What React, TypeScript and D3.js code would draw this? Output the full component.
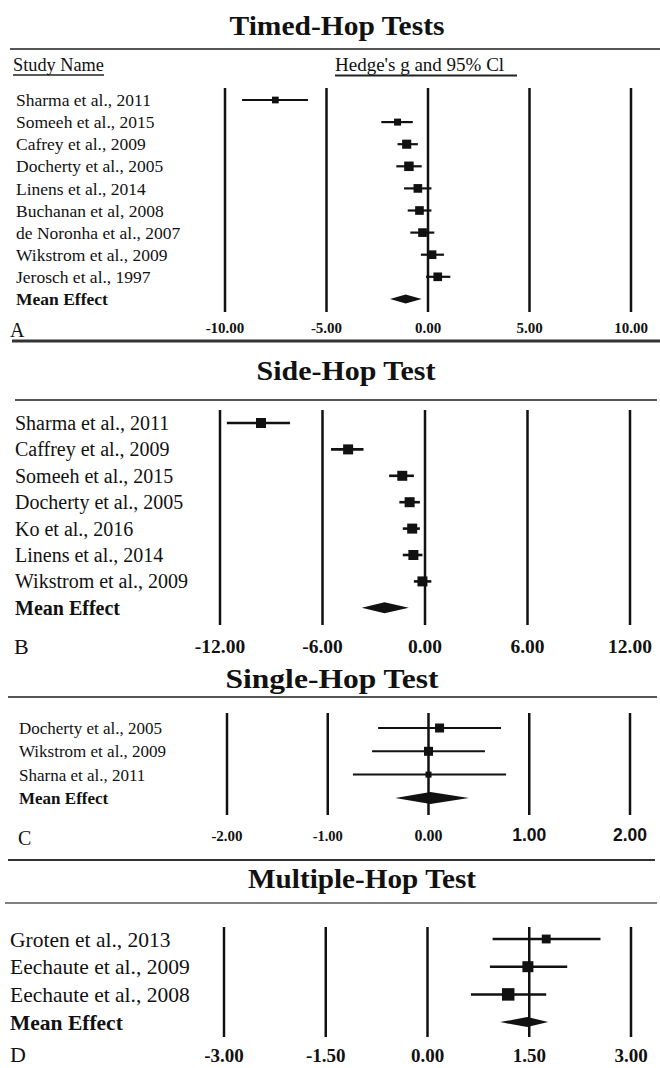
import * as d3 from "d3";

// ---- data ----
const timedStudies = [
  "Sharma et al., 2011",
  "Someeh et al., 2015",
  "Cafrey et al., 2009",
  "Docherty et al., 2005",
  "Linens et al., 2014",
  "Buchanan et al, 2008",
  "de Noronha et al., 2007",
  "Wikstrom et al., 2009",
  "Jerosch et al., 1997",
];
const timedG = [-7.52, -1.5, -1.05, -0.94, -0.5, -0.42, -0.27, 0.2, 0.48];
const timedLo = [-9.16, -2.3, -1.5, -1.56, -1.18, -1.0, -0.87, -0.35, -0.1];
const timedHi = [-5.91, -0.75, -0.5, -0.31, 0.17, 0.17, 0.31, 0.79, 1.1];
const timedWeight = [6, 6.5, 11, 12, 10, 10, 10, 10, 10];
const timedMean = [-1.1, -1.87, -0.31];
const timedTicks = [-10, -5, 0, 5, 10];

const sideStudies = [
  "Sharma et al., 2011",
  "Caffrey et al., 2009",
  "Someeh et al., 2015",
  "Docherty et al., 2005",
  "Ko et al., 2016",
  "Linens et al., 2014",
  "Wikstrom et al., 2009",
];
const sideG = [-9.6, -4.5, -1.33, -0.9, -0.75, -0.68, -0.15];
const sideLo = [-11.6, -5.5, -2.1, -1.5, -1.3, -1.3, -0.65];
const sideHi = [-7.9, -3.6, -0.65, -0.3, -0.3, -0.15, 0.37];
const sideWeight = [14, 14, 14, 14, 14, 14, 14];
const sideMean = [-2.37, -3.7, -0.95];
const sideTicks = [-12, -6, 0, 6, 12];

const singleStudies = ["Docherty et al., 2005", "Wikstrom et al., 2009", "Sharna et al., 2011"];
const singleG = [0.11, 0.0, 0.0];
const singleLo = [-0.5, -0.56, -0.75];
const singleHi = [0.72, 0.56, 0.77];
const singleWeight = [40, 40, 18];
const singleMean = [0.02, -0.33, 0.4];
const singleTicks = [-2, -1, 0, 1, 2];

const multiStudies = ["Groten et al., 2013", "Eechaute et al., 2009", "Eechaute et al., 2008"];
const multiG = [1.75, 1.48, 1.19];
const multiLo = [0.96, 0.92, 0.64];
const multiHi = [2.55, 2.06, 1.75];
const multiWeight = [22, 34, 44];
const multiMean = [1.47, 1.07, 1.78];
const multiTicks = [-3, -1.5, 0, 1.5, 3];

const SERIF = "'Liberation Serif', 'Times New Roman', serif";
const SANS = "'Liberation Sans', Arial, sans-serif";
const fmt = (t: number) => d3.format(".2f")(t).replace("\u2212", "-");

const panels = [
  {
    title: "Timed-Hop Tests", letter: "A",
    studies: timedStudies, g: timedG, lo: timedLo, hi: timedHi, w: timedWeight, mean: timedMean, ticks: timedTicks,
    titleX: 337, titleY: 35, titleSize: 27, titleLen: 215,
    rule: { y: 49, x1: 10, x2: 660, sw: 2 },
    header: true,
    labelX: 16, labelSize: 17.5, row0: 100, step: 22.1,
    grid: [88, 312], range: [225, 631],
    tickY: 333, tickSizes: [15, 15, 15, 15, 15], tickFam: () => SERIF,
    letterX: 10, letterY: 337, letterSize: 20,
    maxSq: 9.5, ciW: 2.2, diamondH: 9,
    bottom: { y: 341, x1: 12, x2: 660, sw: 3 },
  },
  {
    title: "Side-Hop Test", letter: "B",
    studies: sideStudies, g: sideG, lo: sideLo, hi: sideHi, w: sideWeight, mean: sideMean, ticks: sideTicks,
    titleX: 346, titleY: 380, titleSize: 28, titleLen: 179,
    rule: { y: 400, x1: 15, x2: 657, sw: 2 },
    header: false,
    labelX: 15, labelSize: 20, row0: 423, step: 26.4,
    grid: [410, 625], range: [220, 630],
    tickY: 653, tickSizes: [19.5, 19.5, 19.5, 19.5, 19.5], tickFam: () => SERIF,
    letterX: 14, letterY: 654, letterSize: 22,
    maxSq: 10, ciW: 2.6, diamondH: 11,
    bottom: null,
  },
  {
    title: "Single-Hop Test", letter: "C",
    studies: singleStudies, g: singleG, lo: singleLo, hi: singleHi, w: singleWeight, mean: singleMean, ticks: singleTicks,
    titleX: 332, titleY: 688, titleSize: 27, titleLen: 213,
    rule: { y: 697, x1: 8, x2: 657, sw: 2 },
    header: false,
    labelX: 19, labelSize: 17, row0: 728, step: 23.3,
    grid: [713, 815], range: [227, 630],
    tickY: 841, tickSizes: [15, 14.5, 16, 17.5, 17.5], tickFam: (i: number) => (i >= 3 ? SANS : SERIF),
    letterX: 18, letterY: 845, letterSize: 20,
    maxSq: 9, ciW: 2, diamondH: 12,
    bottom: { y: 860, x1: 8, x2: 655, sw: 2 },
  },
  {
    title: "Multiple-Hop Test", letter: "D",
    studies: multiStudies, g: multiG, lo: multiLo, hi: multiHi, w: multiWeight, mean: multiMean, ticks: multiTicks,
    titleX: 362, titleY: 888, titleSize: 28, titleLen: 228,
    rule: { y: 903, x1: 5, x2: 657, sw: 1.5 },
    header: false,
    labelX: 10, labelSize: 21.5, row0: 939, step: 27.7,
    grid: [927, 1037], range: [224, 631],
    tickY: 1062, tickSizes: [19, 19, 19, 19, 19], tickFam: () => SERIF,
    letterX: 10, letterY: 1062, letterSize: 22,
    maxSq: 12.5, ciW: 2.5, diamondH: 10,
    bottom: null,
  },
];

function Panel({ p }: { p: any }) {
  const x = d3
    .scaleLinear()
    .domain([p.ticks[0], p.ticks[p.ticks.length - 1]])
    .range(p.range);
  const n = p.studies.length;
  const y = d3
    .scalePoint<number>()
    .domain(d3.range(n + 1))
    .range([p.row0, p.row0 + p.step * n]);
  const sq = d3.scaleSqrt().domain([0, d3.max(p.w) as number]).range([0, p.maxSq]);
  const my = y(n) as number;
  const [mg, mlo, mhi] = p.mean;
  const hd = p.diamondH / 2;
  const diamond = d3.line()([
    [x(mlo), my],
    [x(mg), my - hd],
    [x(mhi), my],
    [x(mg), my + hd],
    [x(mlo), my],
  ] as [number, number][]);

  return (
    <g>
      <text
        x={p.titleX - p.titleLen / 2}
        y={p.titleY}
        textLength={p.titleLen}
        lengthAdjust="spacingAndGlyphs"
        fontFamily={SERIF}
        fontWeight="bold"
        fontSize={p.titleSize}
        fill="#111"
      >
        {p.title}
      </text>
      <line x1={p.rule.x1} x2={p.rule.x2} y1={p.rule.y} y2={p.rule.y} stroke="#555" strokeWidth={p.rule.sw} />
      {p.header && (
        <g fontFamily={SERIF} fill="#111">
          <text x={13} y={71} fontSize={18.3}>Study Name</text>
          <line x1={13} x2={104} y1={75} y2={75} stroke="#222" strokeWidth={1.5} />
          <text x={335} y={71} fontSize={19}>Hedge's g and 95% Cl</text>
          <line x1={335} x2={517} y1={75.5} y2={75.5} stroke="#222" strokeWidth={2.2} />
        </g>
      )}
      {p.ticks.map((t: number) => (
        <line key={"g" + t} x1={x(t)} x2={x(t)} y1={p.grid[0]} y2={p.grid[1]} stroke="#111" strokeWidth={2.5} />
      ))}
      {p.ticks.map((t: number, i: number) => (
        <text
          key={"t" + t}
          x={x(t)}
          y={p.tickY}
          textAnchor="middle"
          fontFamily={p.tickFam(i)}
          fontWeight="bold"
          fontSize={p.tickSizes[i]}
          fill="#111"
        >
          {fmt(t)}
        </text>
      ))}
      {p.studies.map((s: string, i: number) => {
        const yy = y(i) as number;
        const size = sq(p.w[i]);
        return (
          <g key={s + i}>
            <text x={p.labelX} y={yy} dy="0.35em" fontFamily={SERIF} fontSize={p.labelSize} fill="#111">
              {s}
            </text>
            <line x1={x(p.lo[i])} x2={x(p.hi[i])} y1={yy} y2={yy} stroke="#111" strokeWidth={p.ciW} />
            <rect x={x(p.g[i]) - size / 2} y={yy - size / 2} width={size} height={size} fill="#111" />
          </g>
        );
      })}
      <text x={p.labelX} y={my} dy="0.35em" fontFamily={SERIF} fontWeight="bold" fontSize={p.labelSize} fill="#111">
        Mean Effect
      </text>
      <path d={diamond || ""} fill="#111" />
      <text x={p.letterX} y={p.letterY} fontFamily={SERIF} fontSize={p.letterSize} fill="#111">
        {p.letter}
      </text>
      {p.bottom && (
        <line x1={p.bottom.x1} x2={p.bottom.x2} y1={p.bottom.y} y2={p.bottom.y} stroke="#333" strokeWidth={p.bottom.sw} />
      )}
    </g>
  );
}

export default function App() {
  return (
    <svg
      width={660}
      height={1068}
      viewBox="0 0 660 1068"
      style={{ position: "absolute", left: 0, top: 0, background: "#fff" }}
    >
      <rect width={660} height={1068} fill="#fff" />
      {panels.map((p) => (
        <Panel key={p.letter} p={p} />
      ))}
    </svg>
  );
}
